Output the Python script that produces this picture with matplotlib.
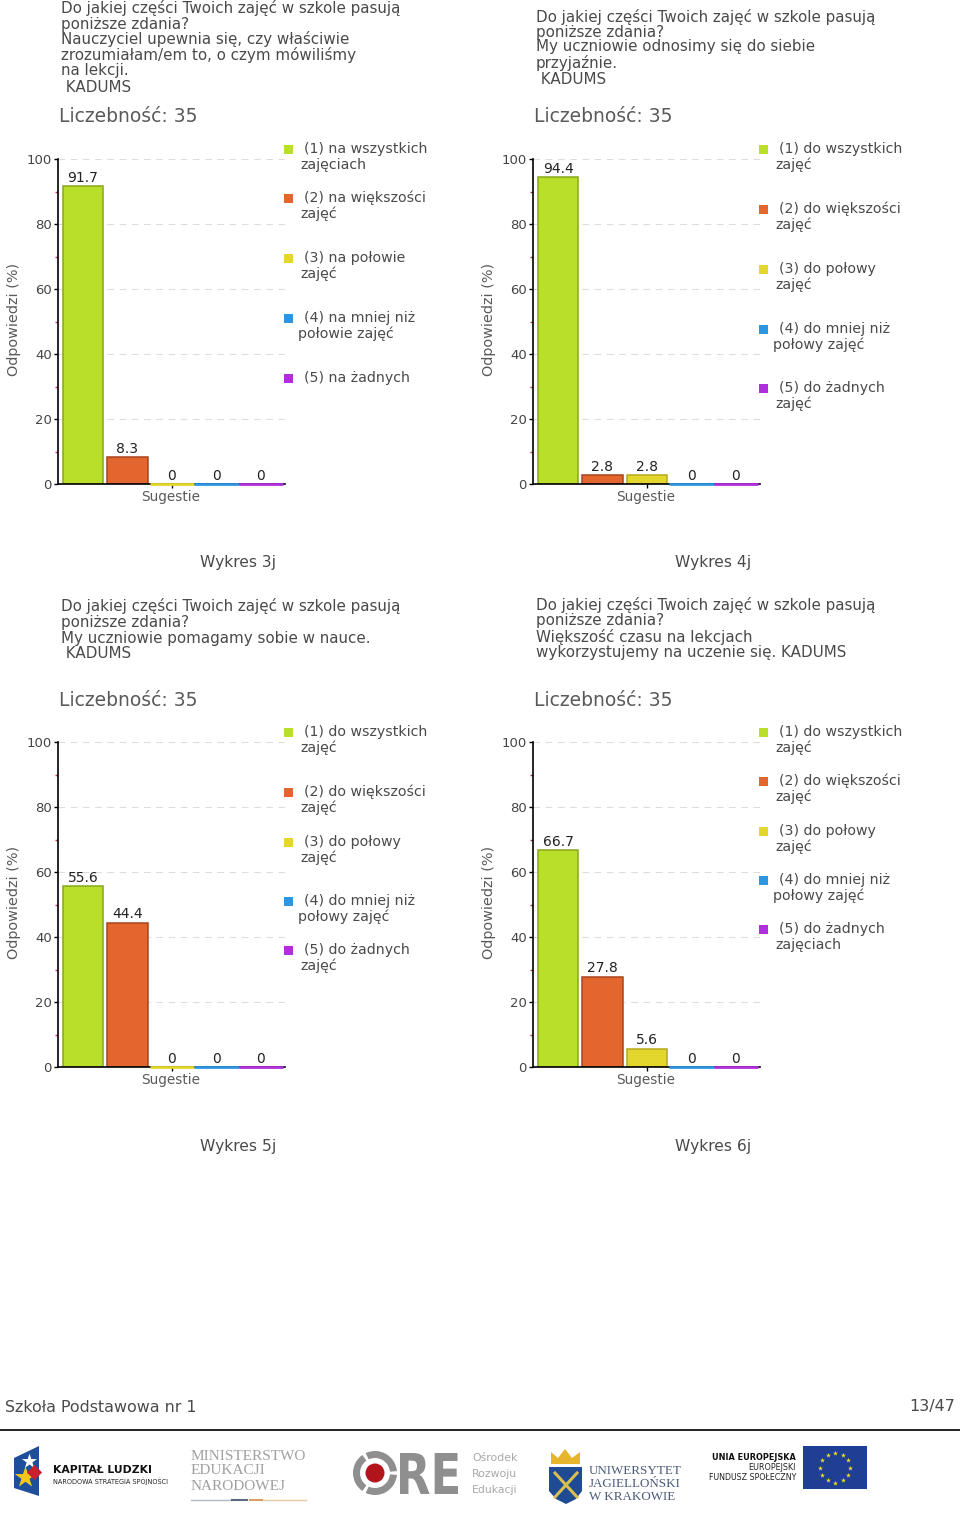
import numpy as np
import matplotlib
matplotlib.use("Agg")
import matplotlib.pyplot as plt
from matplotlib.patches import Polygon, Rectangle, Circle, Wedge, PathPatch
from matplotlib.textpath import TextPath
from matplotlib.font_manager import FontProperties
from matplotlib.transforms import Affine2D

plt.rcParams['font.family'] = ['DejaVu Sans']

W, H = 960, 1518
TEXT = '#4a4a4a'

categories = ['(1)', '(2)', '(3)', '(4)', '(5)']
values_3j = [91.7, 8.3, 0, 0, 0]
values_4j = [94.4, 2.8, 2.8, 0, 0]
values_5j = [55.6, 44.4, 0, 0, 0]
values_6j = [66.7, 27.8, 5.6, 0, 0]
labels_3j = ['91.7', '8.3', '0', '0', '0']
labels_4j = ['94.4', '2.8', '2.8', '0', '0']
labels_5j = ['55.6', '44.4', '0', '0', '0']
labels_6j = ['66.7', '27.8', '5.6', '0', '0']

colors = ['#b9df2b', '#e2662e', '#e3d62c', '#2e96e0', '#b02fdc']
edges = ['#86a81c', '#a8451a', '#b5aa1c', '#1f70aa', '#7d1fa0']

title_3j = ['Do jakiej części Twoich zajęć w szkole pasują', 'poniższe zdania?',
            'Nauczyciel upewnia się, czy właściwie', 'zrozumiałam/em to, o czym mówiliśmy',
            'na lekcji.', ' KADUMS']
title_4j = ['Do jakiej części Twoich zajęć w szkole pasują', 'poniższe zdania?',
            'My uczniowie odnosimy się do siebie', 'przyjaźnie.', ' KADUMS']
title_5j = ['Do jakiej części Twoich zajęć w szkole pasują', 'poniższe zdania?',
            'My uczniowie pomagamy sobie w nauce.', ' KADUMS']
title_6j = ['Do jakiej części Twoich zajęć w szkole pasują', 'poniższe zdania?',
            'Większość czasu na lekcjach', 'wykorzystujemy na uczenie się. KADUMS']

legend_3j = [['(1) na wszystkich', 'zajęciach'], ['(2) na większości', 'zajęć'],
             ['(3) na połowie', 'zajęć'], ['(4) na mniej niż', 'połowie zajęć'], ['(5) na żadnych']]
legend_4j = [['(1) do wszystkich', 'zajęć'], ['(2) do większości', 'zajęć'],
             ['(3) do połowy', 'zajęć'], ['(4) do mniej niż', 'połowy zajęć'], ['(5) do żadnych', 'zajęć']]
legend_5j = legend_4j
legend_6j = [['(1) do wszystkich', 'zajęć'], ['(2) do większości', 'zajęć'],
             ['(3) do połowy', 'zajęć'], ['(4) do mniej niż', 'połowy zajęć'], ['(5) do żadnych', 'zajęciach']]

fig = plt.figure(figsize=(W / 100, H / 100), dpi=100, facecolor='white')
page = fig.add_axes([0, 0, 1, 1], zorder=5)
page.set_xlim(0, W)
page.set_ylim(H, 0)
page.axis('off')
page.patch.set_alpha(0)


def txt(x, y, s, size=10, color=TEXT, ha='left', **kw):
    page.text(x, y, s, fontsize=size, color=color, ha=ha, va='center', **kw)


def chart(dx, dy, title, title_y, values, labels, legend, legend_y, caption):
    for line, y in zip(title, title_y):
        txt(61 + dx, y, line, size=10.9)
    txt(59 + dx, 117 + dy, 'Liczebność: 35', size=13.5, color='#5a5a5a')

    left, right, top, bottom = 58 + dx, 285 + dx, 159 + dy, 484 + dy
    ax = fig.add_axes([left / W, 1 - bottom / H, (right - left) / W, (bottom - top) / H])
    x = np.arange(len(values))
    ax.set_axisbelow(True)
    ax.yaxis.grid(True, color='#dddddd', lw=0.8, ls=(0, (6, 5)))
    ax.bar(x, values, width=0.9, color=colors, edgecolor=edges, linewidth=1.1)
    for i in range(len(values)):
        if values[i] == 0:
            ax.plot([i - 0.5, i + 0.5], [0, 0], color=colors[i], lw=2, clip_on=False, zorder=4,
                    solid_capstyle='butt')
        ax.annotate(labels[i], (i, values[i]), xytext=(0, 1), textcoords='offset points',
                    ha='center', va='bottom', fontsize=10, color='#222222')
    ax.set_xlim(-0.562, 4.54)
    ax.set_ylim(0, 100)
    ax.set_yticks(range(0, 101, 20))
    ax.set_yticks(range(10, 100, 20), minor=True)
    ax.set_xticks([2])
    ax.set_xticklabels([''])
    ax.tick_params(axis='y', which='major', length=3, width=1, color='black',
                   labelsize=9.5, labelcolor='#444444', pad=1.5)
    ax.tick_params(axis='y', which='minor', length=2, width=1, color='#c03030')
    ax.tick_params(axis='x', length=3, width=1, color='black')
    for side in ['top', 'right']:
        ax.spines[side].set_visible(False)
    ax.spines['left'].set_linewidth(1.2)
    ax.spines['bottom'].set_linewidth(1.2)
    ax.patch.set_alpha(0)

    txt(14 + dx, 319 + dy, 'Odpowiedzi (%)', size=10.4, rotation=90, ha='center', color='#5a5a5a')
    txt(171 + dx, 497 + dy, 'Sugestie', size=9.8, ha='center', color='#5a5a5a')

    for entry, y, col in zip(legend, legend_y, colors):
        page.add_patch(Rectangle((283.5 + dx, y - 4.5), 9, 9, color=col, lw=0))
        txt(304 + dx, y, entry[0], size=10.15)
        if len(entry) > 1:
            x2 = 298 if entry[1].startswith('poł') else 300
            txt(x2 + dx, y + 15.5, entry[1], size=10.15)
    txt(238 + dx, 563 + dy, caption, size=11.2, ha='center')


chart(0, 0, title_3j, [8, 24, 39, 55, 71, 87], values_3j, labels_3j, legend_3j,
      [149, 198, 258, 318, 378], 'Wykres 3j')
chart(475, 0, title_4j, [17, 32, 47, 63, 79], values_4j, labels_4j, legend_4j,
      [149, 209, 269, 329, 388], 'Wykres 4j')
chart(0, 583, title_5j, [606, 622, 638, 653], values_5j, labels_5j, legend_5j,
      [732, 792, 842, 901, 950], 'Wykres 5j')
chart(475, 583, title_6j, [605, 621, 637, 652], values_6j, labels_6j, legend_6j,
      [732, 781, 831, 880, 929], 'Wykres 6j')

# footer
txt(5, 1407, 'Szkoła Podstawowa nr 1', size=11.4)
txt(955, 1407, '13/47', size=11.5, ha='right')
page.plot([0, 960], [1430, 1430], color='#111111', lw=1.3)

# logos
page.add_patch(Polygon([(14, 1458), (39, 1446), (39, 1496), (14, 1488)], color='#1d4f9c', lw=0))
page.scatter([29], [1461], marker='*', s=130, color='white', lw=0)
page.scatter([25], [1477], marker='*', s=260, color='#f2c81e', lw=0)
page.scatter([34], [1472], marker='D', s=60, color='#c8202f', lw=0)
txt(53, 1470, 'KAPITAŁ LUDZKI', size=7.8, color='#111111', fontweight='bold')
txt(53, 1481, 'NARODOWA STRATEGIA SPÓJNOŚCI', size=4.7, color='#222222')

for line, y in zip(['MINISTERSTWO', 'EDUKACJI', 'NARODOWEJ'], [1456, 1471, 1487]):
    txt(191, y, line, size=11, color='#a0a0a0', family='Liberation Serif')
page.plot([191, 232], [1500, 1500], color='#b0b8c4', lw=1)
page.plot([262, 306], [1500, 1500], color='#e8c8a0', lw=1)
page.plot([232, 247], [1500, 1500], color='#5a6a80', lw=1.5)
page.plot([250, 262], [1500, 1500], color='#d8a060', lw=1.5)

for a, b in [(5, 115), (125, 235), (245, 355)]:
    page.add_patch(Wedge((375, 1473), 22, a, b, width=7, color='#8f8f8f', lw=0))
page.add_patch(Circle((375, 1473), 9.5, color='#b2141c', lw=0))
re_path = TextPath((0, 0), 'RE', size=1, prop=FontProperties(family='DejaVu Sans', weight='bold'))
re_box = re_path.get_extents()
re_fit = Affine2D().translate(-re_box.x0, -re_box.y0).scale(58 / re_box.width, -41 / re_box.height).translate(400, 1494)
page.add_patch(PathPatch(re_fit.transform_path(re_path), color='#8f8f8f', lw=0))
for line, y in zip(['Ośrodek', 'Rozwoju', 'Edukacji'], [1458, 1474, 1490]):
    txt(472, y, line, size=7.8, color='#a8a8a8')

page.add_patch(Polygon([(549, 1467), (582, 1467), (582, 1491), (576, 1499), (566, 1504), (556, 1499), (549, 1491)],
                       color='#1f4a94', lw=0))
page.add_patch(Polygon([(551, 1464), (551, 1452), (558, 1458), (565, 1449), (572, 1458), (580, 1452), (580, 1464)],
                       color='#e6b52c', lw=0))
page.plot([555, 577], [1473, 1497], color='#d8bf50', lw=2.2)
page.plot([577, 555], [1473, 1497], color='#d8bf50', lw=2.2)
for line, y in zip(['UNIWERSYTET', 'JAGIELLOŃSKI', 'W KRAKOWIE'], [1471, 1484, 1497]):
    txt(589, y, line, size=9.4, color='#4a5a78', family='Liberation Serif')

txt(796, 1457, 'UNIA EUROPEJSKA', size=5.9, color='#111111', ha='right', fontweight='bold')
txt(796, 1468, 'EUROPEJSKI', size=5.8, color='#222222', ha='right')
txt(796, 1478, 'FUNDUSZ SPOŁECZNY', size=5.7, color='#222222', ha='right')
page.add_patch(Rectangle((803, 1446), 64, 43, color='#1f3f94', lw=0))
angle = np.arange(12) * np.pi / 6
page.scatter(835 + 15 * np.cos(angle), 1467.5 + 15 * np.sin(angle), marker='*', s=14, color='#f4dc2a', lw=0)

fig.savefig('out.png', dpi=100, facecolor='white')
